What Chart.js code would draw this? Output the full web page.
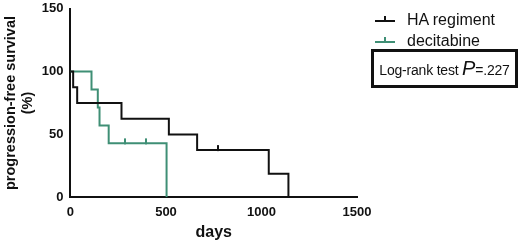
<!DOCTYPE html>
<html>
<head>
<meta charset="utf-8">
<script src="https://cdn.jsdelivr.net/npm/chart.js@4.4.1/dist/chart.umd.min.js"></script>
<style>
  body { margin: 0; background: #fff; font-family: "Liberation Sans", Arial, sans-serif; }
  #wrap { position: relative; width: 520px; height: 242px; }
  .leg { position: absolute; left: 375px; font-size: 16px; color: #111; }
  .leg .sample { display: inline-block; position: relative; width: 20px; height: 0; border-top: 2px solid; vertical-align: middle; margin-right: 12px; }
  .leg .sample::after { content: ""; position: absolute; left: 9px; top: -6px; width: 2px; height: 5px; background: inherit; }
  #box { position: absolute; left: 371px; top: 49px; width: 141px; height: 33px; border: 3px solid #111;
         font-size: 14px; line-height: 33px; text-align: center; color: #111; white-space: nowrap; letter-spacing: -0.2px; }
  #box i { font-size: 20px; }
</style>
</head>
<body>
<div id="wrap">
  <canvas id="km"></canvas>
  <div class="leg" style="top:11px"><span class="sample" style="border-color:#111;background:#111"></span>HA regiment</div>
  <div class="leg" style="top:32px"><span class="sample" style="border-color:#3f8f75;background:#3f8f75"></span>decitabine</div>
  <div id="box">Log-rank test <i>P</i>=.227</div>
</div>
<script>
const seriesNames = ["HA regiment", "decitabine"];

const haDays = [0, 14, 35, 267, 515, 663, 1038, 1141];
const haSurvival = [100, 87.5, 75, 62.5, 50, 37.5, 18.75, 0];
const haCensorDays = [770];
const haCensorSurvival = [37.5];

const decDays = [0, 110, 143, 152, 200, 503];
const decSurvival = [100, 85.7, 71.4, 57.1, 42.9, 0];
const decCensorDays = [286, 393];
const decCensorSurvival = [42.9, 42.9];

const xTicks = [0, 500, 1000, 1500];
const yTicks = [0, 50, 100, 150];

const black = "#111111";
const green = "#3f8f75";

const toPoints = (xs, ys) => xs.map((x, i) => ({ x: x, y: ys[i] }));

// small upward tick used as the censor mark (drawn centred on the point)
const makeTick = (color) => {
    const c = document.createElement("canvas");
    c.width = 2;
    c.height = 12;
    const ctx = c.getContext("2d");
    ctx.fillStyle = color;
    ctx.fillRect(0, 1, 2, 6);
    return c;
};

const stepSet = (label, xs, ys, color) => ({
    label: label,
    data: toPoints(xs, ys),
    borderColor: color,
    borderWidth: 2,
    stepped: true,
    pointRadius: 0,
    fill: false,
});

const censorSet = (label, xs, ys, color) => ({
    label: label + " censored",
    data: toPoints(xs, ys),
    showLine: false,
    pointStyle: makeTick(color),
    pointRadius: 6,
});

const tickFont = { family: "Liberation Sans", size: 13, weight: "bold" };

new Chart(document.getElementById("km"), {
    type: "line",
    data: {
        datasets: [
            stepSet(seriesNames[0], haDays, haSurvival, black),
            stepSet(seriesNames[1], decDays, decSurvival, green),
            censorSet(seriesNames[0], haCensorDays, haCensorSurvival, black),
            censorSet(seriesNames[1], decCensorDays, decCensorSurvival, green),
        ],
    },
    options: {
        responsive: true,
        maintainAspectRatio: false,
        animation: false,
        layout: { padding: { top: 1, right: 163, bottom: 0, left: 2 } },
        plugins: { legend: { display: false }, tooltip: { enabled: false } },
        scales: {
            x: {
                type: "linear",
                min: 0,
                max: 1500,
                afterBuildTicks: (axis) => { axis.ticks = xTicks.map((v) => ({ value: v })); },
                grid: { display: false, drawTicks: true, tickLength: 6, tickColor: black, tickWidth: 2 },
                border: { color: black, width: 2 },
                ticks: { color: black, font: tickFont, padding: 1, maxRotation: 0, callback: (v) => String(v) },
                title: { display: true, text: "days", color: black, font: { family: "Liberation Sans", size: 16, weight: "bold" }, padding: { top: 2, bottom: 0 } },
            },
            y: {
                min: 0,
                max: 150,
                afterBuildTicks: (axis) => { axis.ticks = yTicks.map((v) => ({ value: v })); },
                grid: { display: false, drawTicks: true, tickLength: 6, tickColor: black, tickWidth: 2 },
                border: { color: black, width: 2 },
                ticks: { color: black, font: tickFont, padding: 1, callback: (v) => String(v) },
                title: { display: true, text: ["progression-free survival", "(%)"], color: black, font: { family: "Liberation Sans", size: 14.5, weight: "bold" }, padding: { top: 0, bottom: 4 } },
            },
        },
    },
});
</script>
</body>
</html>
